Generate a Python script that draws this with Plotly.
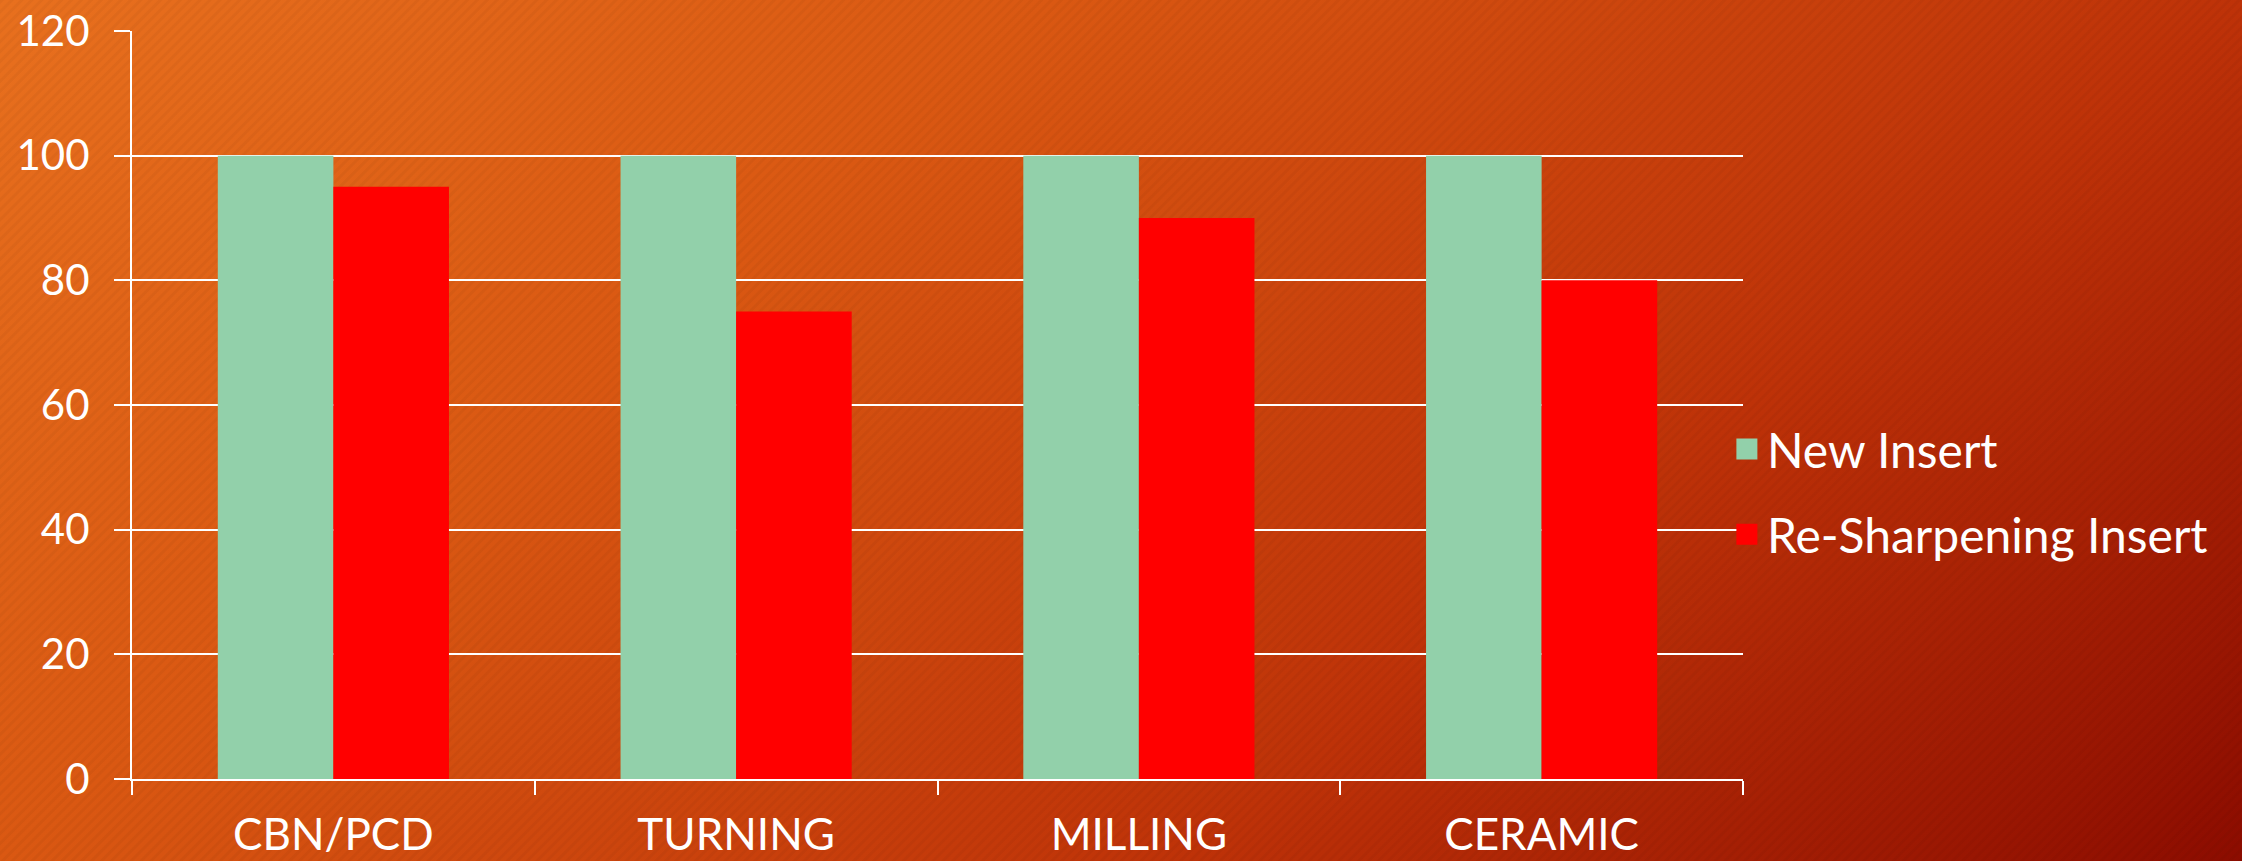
import base64
import plotly.graph_objects as go

categories = ["CBN/PCD", "TURNING", "MILLING", "CERAMIC"]
new_insert = [100, 100, 100, 100]
resharp_insert = [95, 75, 90, 80]
series_names = ["New Insert", "Re-Sharpening Insert"]
series_colors = ["#92D0AA", "#FF0000"]
y_ticks = [0, 20, 40, 60, 80, 100, 120]

W, H = 2242, 861
L, R, T, B = 132, 499, 31, 82
PW, PH = W - L - R, H - T - B

svg = f'''<svg xmlns="http://www.w3.org/2000/svg" width="{W}" height="{H}">
<defs>
<linearGradient id="g" gradientUnits="userSpaceOnUse" x1="0" y1="0" x2="1317" y2="1617">
<stop offset="0" stop-color="#E8701E"/>
<stop offset="0.32" stop-color="#DA5812"/>
<stop offset="0.68" stop-color="#BE3208"/>
<stop offset="1" stop-color="#8C0C00"/>
</linearGradient>
<pattern id="p" width="7" height="7" patternUnits="userSpaceOnUse" patternTransform="rotate(45)">
<rect width="3" height="7" fill="#000" fill-opacity="0.035"/>
</pattern>
</defs>
<rect width="{W}" height="{H}" fill="url(#g)"/>
<rect width="{W}" height="{H}" fill="url(#p)"/>
</svg>'''
bg_uri = "data:image/svg+xml;base64," + base64.b64encode(svg.encode()).decode()

fig = go.Figure()
for name, vals, col in zip(series_names, [new_insert, resharp_insert], series_colors):
    fig.add_trace(go.Bar(x=categories, y=vals, name=name, marker_color=col,
                         marker_line_width=0, showlegend=False, legendgroup=name))
# legend entries (larger square markers)
for name, col in zip(series_names, series_colors):
    fig.add_trace(go.Scatter(x=[None], y=[None], mode="markers", name=name,
                             legendgroup=name,
                             marker=dict(symbol="square", size=16, color=col,
                                         line=dict(color=col, width=5))))

fig.update_layout(
    width=W, height=H,
    margin=dict(l=L, r=R, t=T, b=B, autoexpand=False),
    paper_bgcolor="#C8420C",
    plot_bgcolor="rgba(0,0,0,0)",
    barmode="group", bargap=0.426, bargroupgap=0,
    font=dict(family="Lato", color="white", size=46),
    showlegend=True,
    legend=dict(x=0.99, xanchor="left", y=0.384, yanchor="middle",
                bgcolor="rgba(0,0,0,0)", font=dict(size=48, color="white", family="Lato"),
                tracegroupgap=20, itemwidth=30),
    images=[dict(source=bg_uri, xref="paper", yref="paper",
                 x=-L / PW, y=1 + T / PH, sizex=W / PW, sizey=H / PH,
                 xanchor="left", yanchor="top", sizing="stretch", layer="below")],
)
fig.update_yaxes(range=[0, 120], tickvals=y_ticks, ticktext=[str(v) for v in y_ticks],
                 showgrid=True, gridcolor="white", gridwidth=2,
                 showline=True, linecolor="white", linewidth=2,
                 ticks="outside", ticklen=16, tickwidth=2, tickcolor="white",
                 zeroline=False, ticklabelstandoff=16,
                 tickfont=dict(size=42, family="Lato", color="white"))
fig.update_xaxes(showgrid=False, showline=True, linecolor="white", linewidth=2,
                 ticks="outside", ticklen=14, tickwidth=2, tickcolor="white",
                 tickson="boundaries", ticklabelstandoff=16,
                 tickfont=dict(size=44, family="Lato", color="white"))

fig.write_html("out.html", config={"displayModeBar": False},
               post_script="document.body.style.margin='0';document.body.style.overflow='hidden';")
